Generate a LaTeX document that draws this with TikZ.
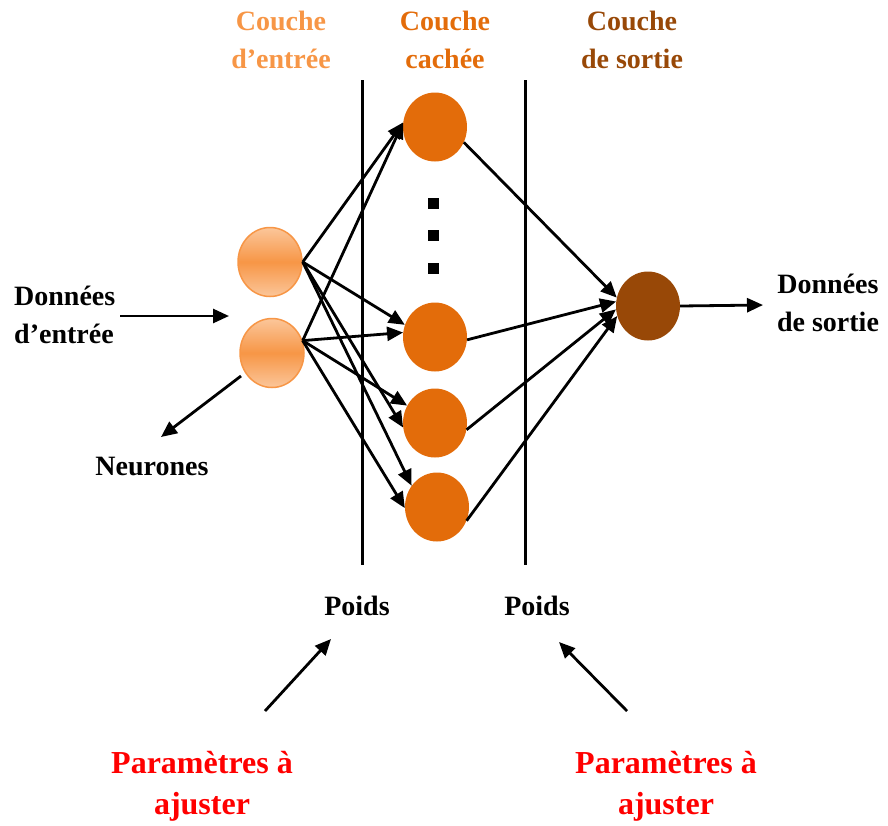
\documentclass[tikz,border=0pt]{standalone}
\usepackage{fontspec}
\setmainfont{Liberation Serif}
\usetikzlibrary{arrows.meta,shapes.geometric}
\definecolor{inlayer}{HTML}{F79646}
\definecolor{inlight}{HTML}{FBC69A}
\definecolor{hidlayer}{HTML}{E36C0A}
\definecolor{outlayer}{HTML}{984807}
\definecolor{paramred}{HTML}{FF0000}
\begin{document}
\begin{tikzpicture}[x=1pt,y=-1pt,
  txt/.style={font=\bfseries\fontsize{28}{38}\selectfont, align=center, inner sep=0pt},
  bigtxt/.style={font=\bfseries\fontsize{32}{41}\selectfont, align=center, inner sep=0pt},
  wire/.style={line width=2.8pt, -{Triangle[length=16pt,width=14pt]}},
  neuron/.style={ellipse, minimum width=64pt, minimum height=69pt, inner sep=0pt},
  inneuron/.style={neuron, draw=inlayer, line width=1.5pt, top color=inlight, bottom color=inlight, middle color=inlayer},
  hidneuron/.style={neuron, fill=hidlayer},
  outneuron/.style={neuron, fill=outlayer},
  dotsq/.style={rectangle, fill=black, minimum size=11pt, inner sep=0pt},
  sep/.style={line width=3pt}
]
\useasboundingbox (0,0) rectangle (888,825);

% layer titles
\node[txt, text=inlayer]  (tin)  at (281,40) {Couche\\d’entrée};
\node[txt, text=hidlayer] (thid) at (445,40) {Couche\\cachée};
\node[txt, text=outlayer] (tout) at (632,40) {Couche\\de sortie};

% separating lines between layers
\coordinate (s1t) at (362,80);  \coordinate (s1b) at (362,565);
\coordinate (s2t) at (525,80);  \coordinate (s2b) at (525,565);
\draw[sep] (s1t) -- (s1b);
\draw[sep] (s2t) -- (s2b);

% neurons
\node[inneuron] (i1) at (270,262) {};
\node[inneuron] (i2) at (272,353) {};
\node[hidneuron] (h1) at (435,127) {};
\node[hidneuron] (h2) at (435,337) {};
\node[hidneuron] (h3) at (435,423) {};
\node[hidneuron] (h4) at (437,507) {};
\node[outneuron] (o)  at (648,306) {};

% vertical dots
\node[dotsq] (d1) at (433,203) {};
\node[dotsq] (d2) at (433,235) {};
\node[dotsq] (d3) at (433,268) {};

% input -> hidden
\draw[wire] (i1.east) -- (h1.172);
\draw[wire] (i1.east) -- (h2.158);
\draw[wire] (i1.east) -- (h3.188);
\draw[wire] (i1.east) -- (h4.140);
\draw[wire] (i2.22) -- (h1.172);
\draw[wire] (i2.22) -- (h2.172);
\draw[wire] (i2.22) -- (h3.148);
\draw[wire] (i2.22) -- (h4.182);

% hidden -> output
\draw[wire] (h1.-28) -- (o.165);
\draw[wire] (h2.-5)  -- (o.172);
\draw[wire] (h3.-12) -- (o.186);
\draw[wire] (h4.-25) -- (o.198);

% data in / out
\node[txt, align=left, anchor=west] (din) at (14,315) {Données\\d’entrée};
\coordinate (dinstart) at (120,316);
\coordinate (dinend) at (229,316);
\draw[wire] (dinstart) -- (dinend);

\node[txt] (dout) at (828,303) {Données\\de sortie};
\coordinate (doutend) at (763,305);
\draw[wire] (o.east) -- (doutend);

% neuron callout
\node[txt] (neur) at (152,466) {Neurones};
\coordinate (neurstart) at (241,376);
\coordinate (neurend) at (161,437);
\draw[wire] (neurstart) -- (neurend);

% weights
\node[txt] (w1) at (357,606) {Poids};
\node[txt] (w2) at (537,606) {Poids};

% parameters to adjust
\node[bigtxt, text=paramred] (p1) at (202,786) {Paramètres à\\ajuster};
\node[bigtxt, text=paramred] (p2) at (666,786) {Paramètres à\\ajuster};
\coordinate (p1s) at (265,711); \coordinate (p1e) at (331,639);
\coordinate (p2s) at (627,711); \coordinate (p2e) at (559,642);
\draw[wire] (p1s) -- (p1e);
\draw[wire] (p2s) -- (p2e);
\end{tikzpicture}
\end{document}
